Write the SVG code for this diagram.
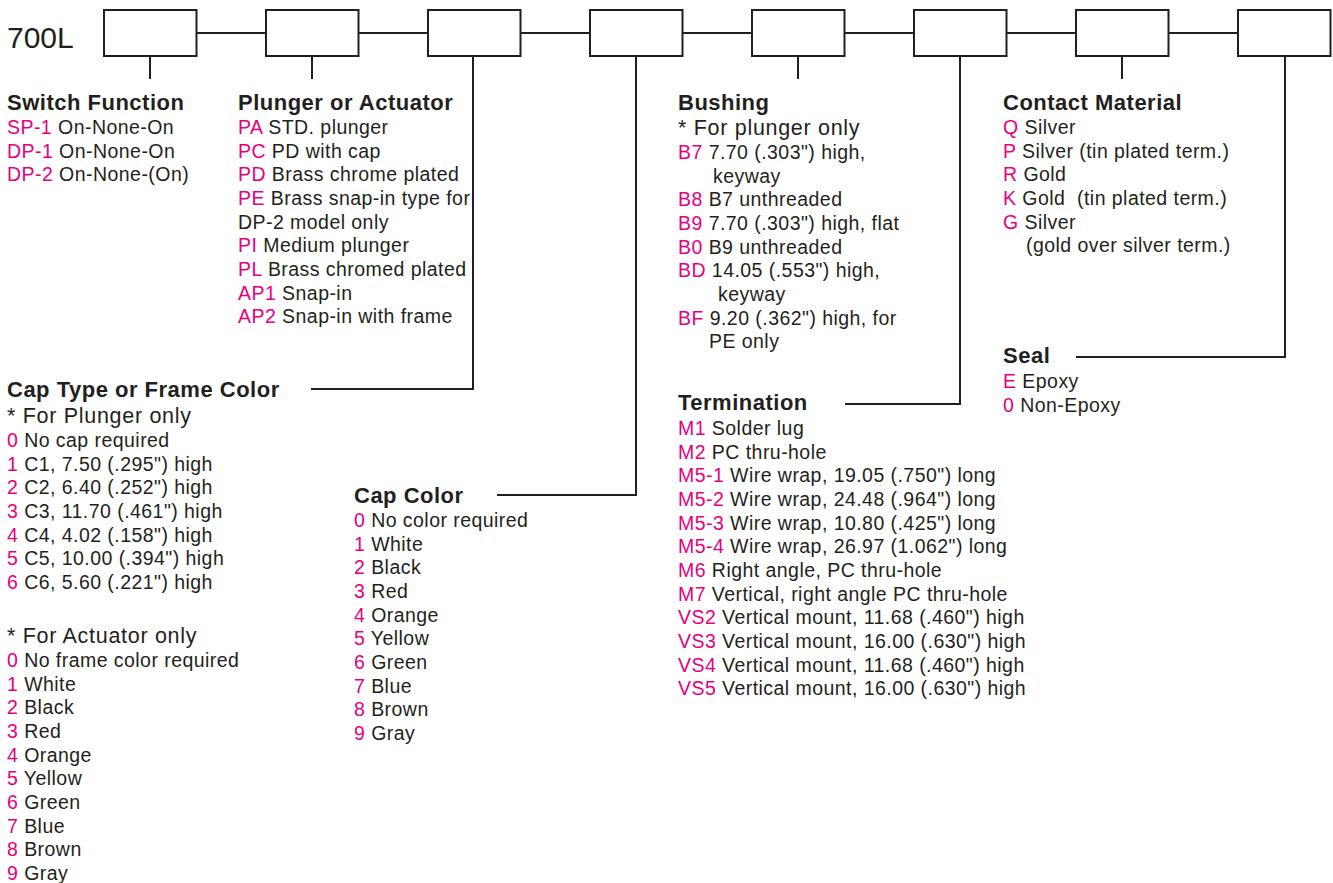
<svg xmlns="http://www.w3.org/2000/svg" width="1333" height="883" viewBox="0 0 1333 883">
<style>
text{font-family:"Liberation Sans",Arial,Helvetica,sans-serif;fill:#231f20}
.t{font-size:19.5px;letter-spacing:0.45px}
.h{font-size:22px;font-weight:bold;letter-spacing:0.5px}
.n{font-size:21.5px;letter-spacing:0.7px}
.p{fill:#e6007e}
.box{fill:#fff;stroke:#231f20;stroke-width:2}
.ln{fill:none;stroke:#231f20;stroke-width:2}
</style>
<rect width="1333" height="883" fill="#fff"/>
<text x="7" y="48" style="font-size:30px">700L</text>
<g id="connectors">
<path class="ln" d="M196.5,33H265.5M358.5,33H427.5M520.5,33H589.5M682.5,33H751.5M844.5,33H913.5M1006.5,33H1075.5M1168.5,33H1237.5"/>
<path class="ln" d="M150,56V79M312,56V79M798,56V79M1122,56V79"/>
<path class="ln" d="M473,56V389H311"/>
<path class="ln" d="M636,56V495H497"/>
<path class="ln" d="M960,56V404H845"/>
<path class="ln" d="M1285,56V357H1076"/>
</g>
<g id="box1"><rect class="box" x="104" y="10" width="92.5" height="46"/></g>
<g id="box2"><rect class="box" x="266" y="10" width="92.5" height="46"/></g>
<g id="box3"><rect class="box" x="428" y="10" width="92.5" height="46"/></g>
<g id="box4"><rect class="box" x="590" y="10" width="92.5" height="46"/></g>
<g id="box5"><rect class="box" x="752" y="10" width="92.5" height="46"/></g>
<g id="box6"><rect class="box" x="914" y="10" width="92.5" height="46"/></g>
<g id="box7"><rect class="box" x="1076" y="10" width="92.5" height="46"/></g>
<g id="box8"><rect class="box" x="1238" y="10" width="92.5" height="46"/></g>

<g id="switch-function">
<text class="h" x="7" y="110">Switch Function</text>
<text class="t" x="7" y="134"><tspan class="p">SP-1</tspan> On-None-On</text>
<text class="t" x="7" y="157.7"><tspan class="p">DP-1</tspan> On-None-On</text>
<text class="t" x="7" y="181.3"><tspan class="p">DP-2</tspan> On-None-(On)</text>
</g>

<g id="plunger-actuator">
<text class="h" x="238" y="110">Plunger or Actuator</text>
<text class="t" x="238" y="134"><tspan class="p">PA</tspan> STD. plunger</text>
<text class="t" x="238" y="157.7"><tspan class="p">PC</tspan> PD with cap</text>
<text class="t" x="238" y="181.3"><tspan class="p">PD</tspan> Brass chrome plated</text>
<text class="t" x="238" y="205"><tspan class="p">PE</tspan> Brass snap-in type for</text>
<text class="t" x="238" y="228.7">DP-2 model only</text>
<text class="t" x="238" y="252.3"><tspan class="p">PI</tspan> Medium plunger</text>
<text class="t" x="238" y="276"><tspan class="p">PL</tspan> Brass chromed plated</text>
<text class="t" x="238" y="299.7"><tspan class="p">AP1</tspan> Snap-in</text>
<text class="t" x="238" y="323.3"><tspan class="p">AP2</tspan> Snap-in with frame</text>
</g>

<g id="cap-type">
<text class="h" x="7" y="397">Cap Type or Frame Color</text>
<text class="n" x="7" y="423">* For Plunger only</text>
<text class="t" x="7" y="447"><tspan class="p">0</tspan> No cap required</text>
<text class="t" x="7" y="470.7"><tspan class="p">1</tspan> C1, 7.50 (.295") high</text>
<text class="t" x="7" y="494.3"><tspan class="p">2</tspan> C2, 6.40 (.252") high</text>
<text class="t" x="7" y="518"><tspan class="p">3</tspan> C3, 11.70 (.461") high</text>
<text class="t" x="7" y="541.7"><tspan class="p">4</tspan> C4, 4.02 (.158") high</text>
<text class="t" x="7" y="565.3"><tspan class="p">5</tspan> C5, 10.00 (.394") high</text>
<text class="t" x="7" y="589"><tspan class="p">6</tspan> C6, 5.60 (.221") high</text>
<text class="n" x="7" y="643">* For Actuator only</text>
<text class="t" x="7" y="667"><tspan class="p">0</tspan> No frame color required</text>
<text class="t" x="7" y="690.7"><tspan class="p">1</tspan> White</text>
<text class="t" x="7" y="714.3"><tspan class="p">2</tspan> Black</text>
<text class="t" x="7" y="738"><tspan class="p">3</tspan> Red</text>
<text class="t" x="7" y="761.7"><tspan class="p">4</tspan> Orange</text>
<text class="t" x="7" y="785.3"><tspan class="p">5</tspan> Yellow</text>
<text class="t" x="7" y="809"><tspan class="p">6</tspan> Green</text>
<text class="t" x="7" y="832.7"><tspan class="p">7</tspan> Blue</text>
<text class="t" x="7" y="856.3"><tspan class="p">8</tspan> Brown</text>
<text class="t" x="7" y="880"><tspan class="p">9</tspan> Gray</text>
</g>

<g id="cap-color">
<text class="h" x="354" y="503">Cap Color</text>
<text class="t" x="354" y="527"><tspan class="p">0</tspan> No color required</text>
<text class="t" x="354" y="550.7"><tspan class="p">1</tspan> White</text>
<text class="t" x="354" y="574.3"><tspan class="p">2</tspan> Black</text>
<text class="t" x="354" y="598"><tspan class="p">3</tspan> Red</text>
<text class="t" x="354" y="621.7"><tspan class="p">4</tspan> Orange</text>
<text class="t" x="354" y="645.3"><tspan class="p">5</tspan> Yellow</text>
<text class="t" x="354" y="669"><tspan class="p">6</tspan> Green</text>
<text class="t" x="354" y="692.7"><tspan class="p">7</tspan> Blue</text>
<text class="t" x="354" y="716.3"><tspan class="p">8</tspan> Brown</text>
<text class="t" x="354" y="740"><tspan class="p">9</tspan> Gray</text>
</g>

<g id="bushing">
<text class="h" x="678" y="110">Bushing</text>
<text class="n" x="678" y="135">* For plunger only</text>
<text class="t" x="678" y="159"><tspan class="p">B7</tspan> 7.70 (.303") high,</text>
<text class="t" x="713" y="182.7">keyway</text>
<text class="t" x="678" y="206.3"><tspan class="p">B8</tspan> B7 unthreaded</text>
<text class="t" x="678" y="230"><tspan class="p">B9</tspan> 7.70 (.303") high, flat</text>
<text class="t" x="678" y="253.7"><tspan class="p">B0</tspan> B9 unthreaded</text>
<text class="t" x="678" y="277.3"><tspan class="p">BD</tspan> 14.05 (.553") high,</text>
<text class="t" x="718" y="301">keyway</text>
<text class="t" x="678" y="324.7"><tspan class="p">BF</tspan> 9.20 (.362") high, for</text>
<text class="t" x="709" y="348.3">PE only</text>
</g>

<g id="termination">
<text class="h" x="678" y="410">Termination</text>
<text class="t" x="678" y="435"><tspan class="p">M1</tspan> Solder lug</text>
<text class="t" x="678" y="458.7"><tspan class="p">M2</tspan> PC thru-hole</text>
<text class="t" x="678" y="482.3"><tspan class="p">M5-1</tspan> Wire wrap, 19.05 (.750") long</text>
<text class="t" x="678" y="506"><tspan class="p">M5-2</tspan> Wire wrap, 24.48 (.964") long</text>
<text class="t" x="678" y="529.7"><tspan class="p">M5-3</tspan> Wire wrap, 10.80 (.425") long</text>
<text class="t" x="678" y="553.3"><tspan class="p">M5-4</tspan> Wire wrap, 26.97 (1.062") long</text>
<text class="t" x="678" y="577"><tspan class="p">M6</tspan> Right angle, PC thru-hole</text>
<text class="t" x="678" y="600.7"><tspan class="p">M7</tspan> Vertical, right angle PC thru-hole</text>
<text class="t" x="678" y="624.3"><tspan class="p">VS2</tspan> Vertical mount, 11.68 (.460") high</text>
<text class="t" x="678" y="648"><tspan class="p">VS3</tspan> Vertical mount, 16.00 (.630") high</text>
<text class="t" x="678" y="671.7"><tspan class="p">VS4</tspan> Vertical mount, 11.68 (.460") high</text>
<text class="t" x="678" y="695.3"><tspan class="p">VS5</tspan> Vertical mount, 16.00 (.630") high</text>
</g>

<g id="contact-material">
<text class="h" x="1003" y="110">Contact Material</text>
<text class="t" x="1003" y="134"><tspan class="p">Q</tspan> Silver</text>
<text class="t" x="1003" y="157.7"><tspan class="p">P</tspan> Silver (tin plated term.)</text>
<text class="t" x="1003" y="181.3"><tspan class="p">R</tspan> Gold</text>
<text class="t" x="1003" y="205" xml:space="preserve"><tspan class="p">K</tspan> Gold  (tin plated term.)</text>
<text class="t" x="1003" y="228.7"><tspan class="p">G</tspan> Silver</text>
<text class="t" x="1026" y="252.3">(gold over silver term.)</text>
</g>

<g id="seal">
<text class="h" x="1003" y="363">Seal</text>
<text class="t" x="1003" y="388"><tspan class="p">E</tspan> Epoxy</text>
<text class="t" x="1003" y="411.7"><tspan class="p">0</tspan> Non-Epoxy</text>
</g>
</svg>
